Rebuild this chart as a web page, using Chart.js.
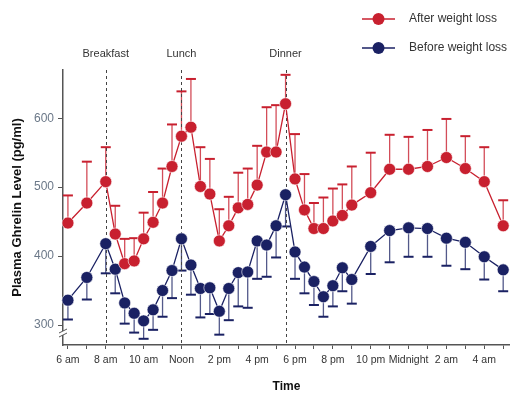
<!DOCTYPE html>
<html>
<head>
<meta charset="utf-8">
<script src="https://cdn.jsdelivr.net/npm/chart.js@4.4.1/dist/chart.umd.min.js"></script>
<style>
    html, body { margin: 0; padding: 0; background: #fff; }
    #wrap { width: 510px; height: 398px; position: relative; }
</style>
</head>
<body>
<div id="wrap"><canvas id="ghrelinChart"></canvas></div>
<script>
// Heures de prélèvement (6 = 6 am, 24 = minuit, 29 = 5 am)
const hours = [6, 7, 8, 8.5, 9, 9.5, 10, 10.5, 11, 11.5, 12, 12.5, 13, 13.5, 14, 14.5, 15, 15.5, 16,
    16.5, 17, 17.5, 18, 18.5, 19, 19.5, 20, 20.5, 21, 22, 23, 24, 25, 26, 27, 28, 29];

// Après perte de poids (moyenne + borne haute de l'erreur)
const afterLoss = [448, 477, 508, 432, 389, 393, 425, 449, 477, 530, 574, 587, 501, 490, 422, 444, 470, 475, 503,
    551, 551, 621, 512, 467, 440, 440, 451, 459, 474, 492, 526, 526, 530, 543, 527, 508, 444];
const afterLossUpper = [488, 537, 558, 473, 425, 426, 463, 493, 527, 591, 639, 657, 558, 541, 468, 486, 521, 527, 560,
    616, 619, 663, 577, 519, 477, 485, 498, 504, 530, 550, 576, 573, 583, 599, 574, 558, 481];

// Avant perte de poids (moyenne + borne basse de l'erreur)
const beforeLoss = [336, 369, 418, 381, 332, 317, 306, 322, 350, 379, 425, 387, 353, 354, 320, 353, 376, 377, 422,
    416, 444, 489, 406, 384, 363, 341, 357, 383, 366, 414, 437, 441, 440, 426, 420, 399, 380];
const beforeLossLower = [308, 337, 375, 346, 302, 289, 280, 293, 312, 339, 379, 344, 311, 316, 286, 307, 327, 325, 367,
    370, 398, 443, 367, 346, 329, 312, 327, 349, 331, 374, 391, 399, 399, 386, 381, 366, 349];

const xTickLabels = {6: '6 am', 8: '8 am', 10: '10 am', 12: 'Noon', 14: '2 pm', 16: '4 pm', 18: '6 pm',
    20: '8 pm', 22: '10 pm', 24: 'Midnight', 26: '2 am', 28: '4 am'};
const yTicks = [300, 400, 500, 600];
const meals = ['Breakfast', 'Lunch', 'Dinner'];
const mealHours = [8, 12, 17.5];

const redColor = '#c8202f';
const blueColor = '#1a2163';
const fontFamily = "'Liberation Sans', Arial, sans-serif";

// Barres d'erreur dessinées via les échelles du graphique
const errorBarsPlugin = {
    id: 'errorBars',
    beforeDatasetsDraw(chart) {
        const ctx = chart.ctx;
        const xs = chart.scales.x;
        const ys = chart.scales.y;
        const bars = [
            { vals: afterLoss, ends: afterLossUpper, color: 'rgba(200,32,47,0.8)', cap: redColor },
            { vals: beforeLoss, ends: beforeLossLower, color: 'rgba(26,33,99,0.75)', cap: blueColor }
        ];
        ctx.save();
        bars.forEach(b => {
            hours.forEach((h, i) => {
                const x = xs.getPixelForValue(h);
                const y0 = ys.getPixelForValue(b.vals[i]);
                const y1 = ys.getPixelForValue(b.ends[i]);
                ctx.strokeStyle = b.color;
                ctx.lineWidth = 1.3;
                ctx.beginPath();
                ctx.moveTo(x, y0);
                ctx.lineTo(x, y1);
                ctx.stroke();
                ctx.strokeStyle = b.cap;
                ctx.lineWidth = 2;
                ctx.beginPath();
                ctx.moveTo(x - 5, y1);
                ctx.lineTo(x + 5, y1);
                ctx.stroke();
            });
        });
        ctx.restore();
    }
};

// Lignes verticales des repas + légende + coupure d'axe
const decorPlugin = {
    id: 'decor',
    beforeDatasetsDraw(chart) {
        const ctx = chart.ctx;
        const area = chart.chartArea;
        const xs = chart.scales.x;
        ctx.save();
        ctx.strokeStyle = '#444';
        ctx.lineWidth = 1;
        ctx.setLineDash([3, 3]);
        mealHours.forEach(h => {
            const x = Math.round(xs.getPixelForValue(h)) + 0.5;
            ctx.beginPath();
            ctx.moveTo(x, area.top);
            ctx.lineTo(x, area.bottom);
            ctx.stroke();
        });
        ctx.setLineDash([]);
        ctx.fillStyle = '#333';
        ctx.font = '11px ' + fontFamily;
        ctx.textAlign = 'center';
        ctx.textBaseline = 'middle';
        mealHours.forEach((h, i) => {
            ctx.fillText(meals[i], xs.getPixelForValue(h), 54);
        });
        ctx.restore();
    },
    afterDraw(chart) {
        const ctx = chart.ctx;
        const area = chart.chartArea;
        ctx.save();
        // Symbole de coupure sur l'axe Y
        const bx = area.left;
        const by = 333;
        ctx.fillStyle = '#fff';
        ctx.fillRect(bx - 4, by - 2, 8, 4);
        ctx.strokeStyle = '#555';
        ctx.lineWidth = 1;
        [-2, 2].forEach(d => {
            ctx.beginPath();
            ctx.moveTo(bx - 4, by + d + 2);
            ctx.lineTo(bx + 4, by + d - 2);
            ctx.stroke();
        });
        // Légende
        chart.data.datasets.forEach((ds, i) => {
            const y = 19 + i * 29;
            ctx.strokeStyle = ds.borderColor;
            ctx.lineWidth = 1.3;
            ctx.beginPath();
            ctx.moveTo(362, y);
            ctx.lineTo(395, y);
            ctx.stroke();
            ctx.fillStyle = ds.backgroundColor;
            ctx.beginPath();
            ctx.arc(378.5, y, 6, 0, Math.PI * 2);
            ctx.fill();
            ctx.fillStyle = '#333';
            ctx.font = '12px ' + fontFamily;
            ctx.textAlign = 'left';
            ctx.textBaseline = 'middle';
            ctx.fillText(ds.label, 409, y);
        });
        ctx.restore();
    }
};

const ctx = document.getElementById('ghrelinChart');
new Chart(ctx, {
    type: 'line',
    data: {
        datasets: [
            {
                label: 'After weight loss',
                data: hours.map((h, i) => ({ x: h, y: afterLoss[i] })),
                borderColor: redColor,
                backgroundColor: redColor,
                borderWidth: 1.3,
                pointRadius: 6,
                pointBorderColor: '#fff',
                pointBorderWidth: 0.6,
                tension: 0,
                clip: false
            },
            {
                label: 'Before weight loss',
                data: hours.map((h, i) => ({ x: h, y: beforeLoss[i] })),
                borderColor: blueColor,
                backgroundColor: blueColor,
                borderWidth: 1.3,
                pointRadius: 6,
                pointBorderColor: '#fff',
                pointBorderWidth: 0.6,
                tension: 0,
                clip: false
            }
        ]
    },
    options: {
        responsive: true,
        maintainAspectRatio: false,
        animation: false,
        layout: { autoPadding: false, padding: { top: 70, right: 0, left: 0, bottom: 0 } },
        plugins: {
            legend: { display: false },
            tooltip: { enabled: false }
        },
        scales: {
            x: {
                type: 'linear',
                min: 5.74,
                max: 29.36,
                afterBuildTicks: scale => {
                    const t = [];
                    for (let h = 6; h <= 29; h++) t.push({ value: h });
                    scale.ticks = t;
                },
                afterFit: scale => { scale.height = 53; },
                ticks: {
                    autoSkip: false,
                    maxRotation: 0,
                    padding: 5,
                    color: '#333',
                    font: { family: fontFamily, size: 10.5 },
                    callback: v => xTickLabels[v] || ''
                },
                grid: { drawOnChartArea: false, tickLength: 4, color: '#555' },
                border: { color: '#555', width: 1.5 },
                title: {
                    display: true,
                    text: 'Time',
                    color: '#111',
                    font: { family: fontFamily, size: 12, weight: 'bold' },
                    padding: { top: 18 }
                }
            },
            y: {
                min: 271,
                max: 670,
                afterBuildTicks: scale => { scale.ticks = yTicks.map(v => ({ value: v })); },
                afterFit: scale => { scale.width = 63; },
                ticks: {
                    padding: 4,
                    color: '#6b7888',
                    font: { family: fontFamily, size: 12 }
                },
                grid: { drawOnChartArea: false, tickLength: 5, color: '#555' },
                border: { color: '#555', width: 1.5 },
                title: {
                    display: true,
                    text: 'Plasma Ghrelin Level (pg/ml)',
                    color: '#111',
                    font: { family: fontFamily, size: 13, weight: 'bold' },
                    padding: { top: 10, bottom: 0 }
                }
            }
        }
    },
    plugins: [errorBarsPlugin, decorPlugin]
});
</script>
</body>
</html>
